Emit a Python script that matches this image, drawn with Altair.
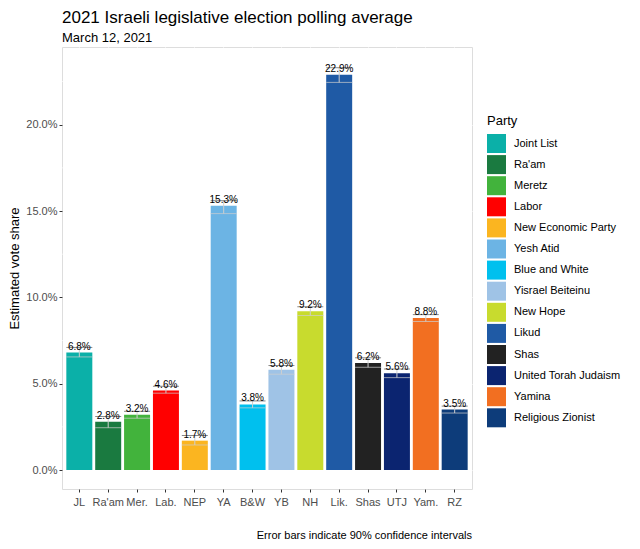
import altair as alt
import pandas as pd

abbrev = ["JL", "Ra'am", "Mer.", "Lab.", "NEP", "YA", "B&W", "YB", "NH", "Lik.", "Shas", "UTJ", "Yam.", "RZ"]
party = ["Joint List", "Ra'am", "Meretz", "Labor", "New Economic Party", "Yesh Atid",
         "Blue and White", "Yisrael Beiteinu", "New Hope", "Likud", "Shas",
         "United Torah Judaism", "Yamina", "Religious Zionist"]
share = [6.8, 2.8, 3.2, 4.6, 1.7, 15.3, 3.8, 5.8, 9.2, 22.9, 6.2, 5.6, 8.8, 3.5]
lower = [6.55, 2.45, 3.0, 4.45, 1.45, 14.85, 3.6, 5.55, 8.95, 22.45, 5.95, 5.35, 8.6, 3.3]
upper = [7.1, 3.1, 3.4, 4.85, 2.0, 15.6, 4.0, 6.05, 9.45, 23.3, 6.5, 5.85, 9.0, 3.7]
colors = ["#0bb0a8", "#1a7a40", "#42b33c", "#ff0000", "#fbb520", "#6cb4e4", "#00c0ee",
          "#9fc3e6", "#c8db2e", "#1f5aa5", "#222222", "#0b2470", "#f26f21", "#0d3c7a"]
y_ticks = [0, 5, 10, 15, 20]
minor_ticks = [2.5, 7.5, 12.5, 17.5, 22.5]
caption = "Error bars indicate 90% confidence intervals"

df = pd.DataFrame({"abbr": abbrev, "party": party, "share": share,
                   "lower": lower, "upper": upper})
df["label"] = [f"{v:.1f}%" for v in share]

FONT = "Liberation Sans"
yscale = alt.Scale(domain=[-1.1, 24.5], nice=False, zero=False)
xscale = alt.Scale(paddingInner=0.1, paddingOuter=0.15)

x_enc = alt.X("abbr:N", sort=abbrev, scale=xscale,
              axis=alt.Axis(title=None, grid=True, bandPosition=0.5, labelAngle=0,
                            domain=False, tickSize=3, labelPadding=4,
                            labelFontSize=11, labelColor="#4d4d4d", tickColor="#333333",
                            gridColor="white", gridWidth=1.1))

base = alt.Chart(df)

minor = alt.Chart(pd.DataFrame({"v": minor_ticks})).mark_rule(
    color="white", strokeWidth=0.6
).encode(y=alt.Y("v:Q", scale=yscale))

bars = base.mark_bar().encode(
    x=x_enc,
    y=alt.Y("share:Q", scale=yscale,
            axis=alt.Axis(title="Estimated vote share", values=y_ticks,
                          labelExpr="format(datum.value, '.1f') + '%'",
                          grid=True, gridColor="white", gridWidth=1.1,
                          domain=False, tickSize=3, labelPadding=2,
                          labelFontSize=11, labelColor="#4d4d4d", tickColor="#333333",
                          titleFontSize=13, titleFontWeight="normal", titleColor="black",
                          titlePadding=4)),
    y2=alt.datum(0),
    color=alt.Color("party:N", sort=party,
                    scale=alt.Scale(domain=party, range=colors),
                    legend=alt.Legend(title="Party", orient="none", legendX=425, legendY=68,
                                      symbolType="square", symbolSize=361,
                                      symbolStrokeWidth=0, symbolOpacity=1,
                                      labelFontSize=11, labelColor="black", labelOffset=8,
                                      titleFontSize=13, titleFontWeight="normal",
                                      titleColor="black", titlePadding=6,
                                      rowPadding=2.1, labelLimit=200)),
)

err_rule = base.mark_rule(color="#cfcfcf", strokeWidth=1).encode(
    x=alt.X("abbr:N", sort=abbrev, scale=xscale),
    y=alt.Y("lower:Q", scale=yscale), y2="upper:Q")
err_lo = base.mark_tick(color="#cfcfcf", thickness=1, size=26).encode(
    x=alt.X("abbr:N", sort=abbrev, scale=xscale),
    y=alt.Y("lower:Q", scale=yscale))
err_hi = base.mark_tick(color="#555555", thickness=1, size=26).encode(
    x=alt.X("abbr:N", sort=abbrev, scale=xscale),
    y=alt.Y("upper:Q", scale=yscale))

labels = base.mark_text(baseline="bottom", dy=-1, fontSize=10, color="black", font=FONT).encode(
    x=alt.X("abbr:N", sort=abbrev, scale=xscale),
    y=alt.Y("share:Q", scale=yscale),
    text="label:N")

cap = alt.Chart(pd.DataFrame({"t": [caption]})).mark_text(
    align="right", baseline="middle", fontSize=11, color="black", font=FONT
).encode(x=alt.value(410), y=alt.value(489), text="t:N")

chart = alt.layer(minor, bars, err_rule, err_lo, err_hi, labels, cap).properties(
    width=410, height=442,
    autosize=alt.AutoSizeParams(type="none"),
    padding={"left": 54, "top": 39, "right": 160, "bottom": 52},
    title=alt.TitleParams(text="2021 Israeli legislative election polling average",
                          subtitle="March 12, 2021", anchor="start", frame="group",
                          fontSize=17, fontWeight="normal", subtitleFontSize=13,
                          color="black", subtitleColor="black", font=FONT,
                          subtitleFont=FONT, offset=1, subtitlePadding=5),
).configure_view(fill="#ebebeb", stroke=None).configure(font=FONT).configure_axis(
    labelFont=FONT, titleFont=FONT).configure_legend(labelFont=FONT, titleFont=FONT)

chart.save("out.html", embed_options={"renderer": "svg", "actions": False})
